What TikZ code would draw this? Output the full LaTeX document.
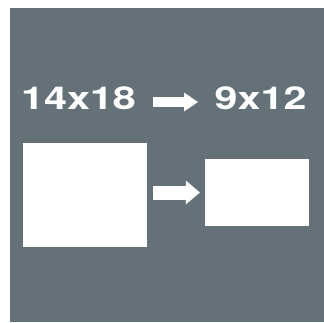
\documentclass[tikz,border=0pt]{standalone}
\usepackage{fontspec}
\usepackage{tikz}
\usetikzlibrary{arrows.meta}
\usepackage{xcolor}
\definecolor{ColBg}{RGB}{101,113,121}
\newfontfamily\SizeFont{texgyreheros-bold.otf}[FakeStretch=1.31]
\tikzstyle{SizeLabel}=[anchor=base west,inner sep=0pt,text=white,
font=\SizeFont\fontsize{31.5}{36}\selectfont]
\tikzstyle{Sheet}=[rectangle,fill=white,inner sep=0pt]
\tikzstyle{ArrowWhite}=[white]

\begin{document}
\begin{tikzpicture}[x=1pt,y=-1pt]
        \useasboundingbox(0,0)rectangle(324,322);
        \fill[ColBg](10,7.5)rectangle(324,322);
        \node[SizeLabel](old)at(21,109){14x18};
        \node[SizeLabel](new)at(214.5,109){9x12};
        \node[Sheet,minimum width=124pt,minimum height=104pt](big)at(85,195){};
        \node[Sheet,minimum width=104pt,minimum height=67pt](small)at(257,192.5){};
        \draw[ArrowWhite,line width=10pt,shorten <=17pt,shorten >=16.5pt,
          -{Triangle[length=14pt,width=19pt,line width=0pt]}]
          ([yshift=7pt]old.base east)--([yshift=7pt]new.base west);
        \draw[ArrowWhite,line width=14pt,shorten <=6pt,shorten >=5pt,
          -{Triangle[length=14pt,width=24pt,line width=0pt]}]
          (small.west-|big.east)--(small.west);
    \end{tikzpicture}
\end{document}
